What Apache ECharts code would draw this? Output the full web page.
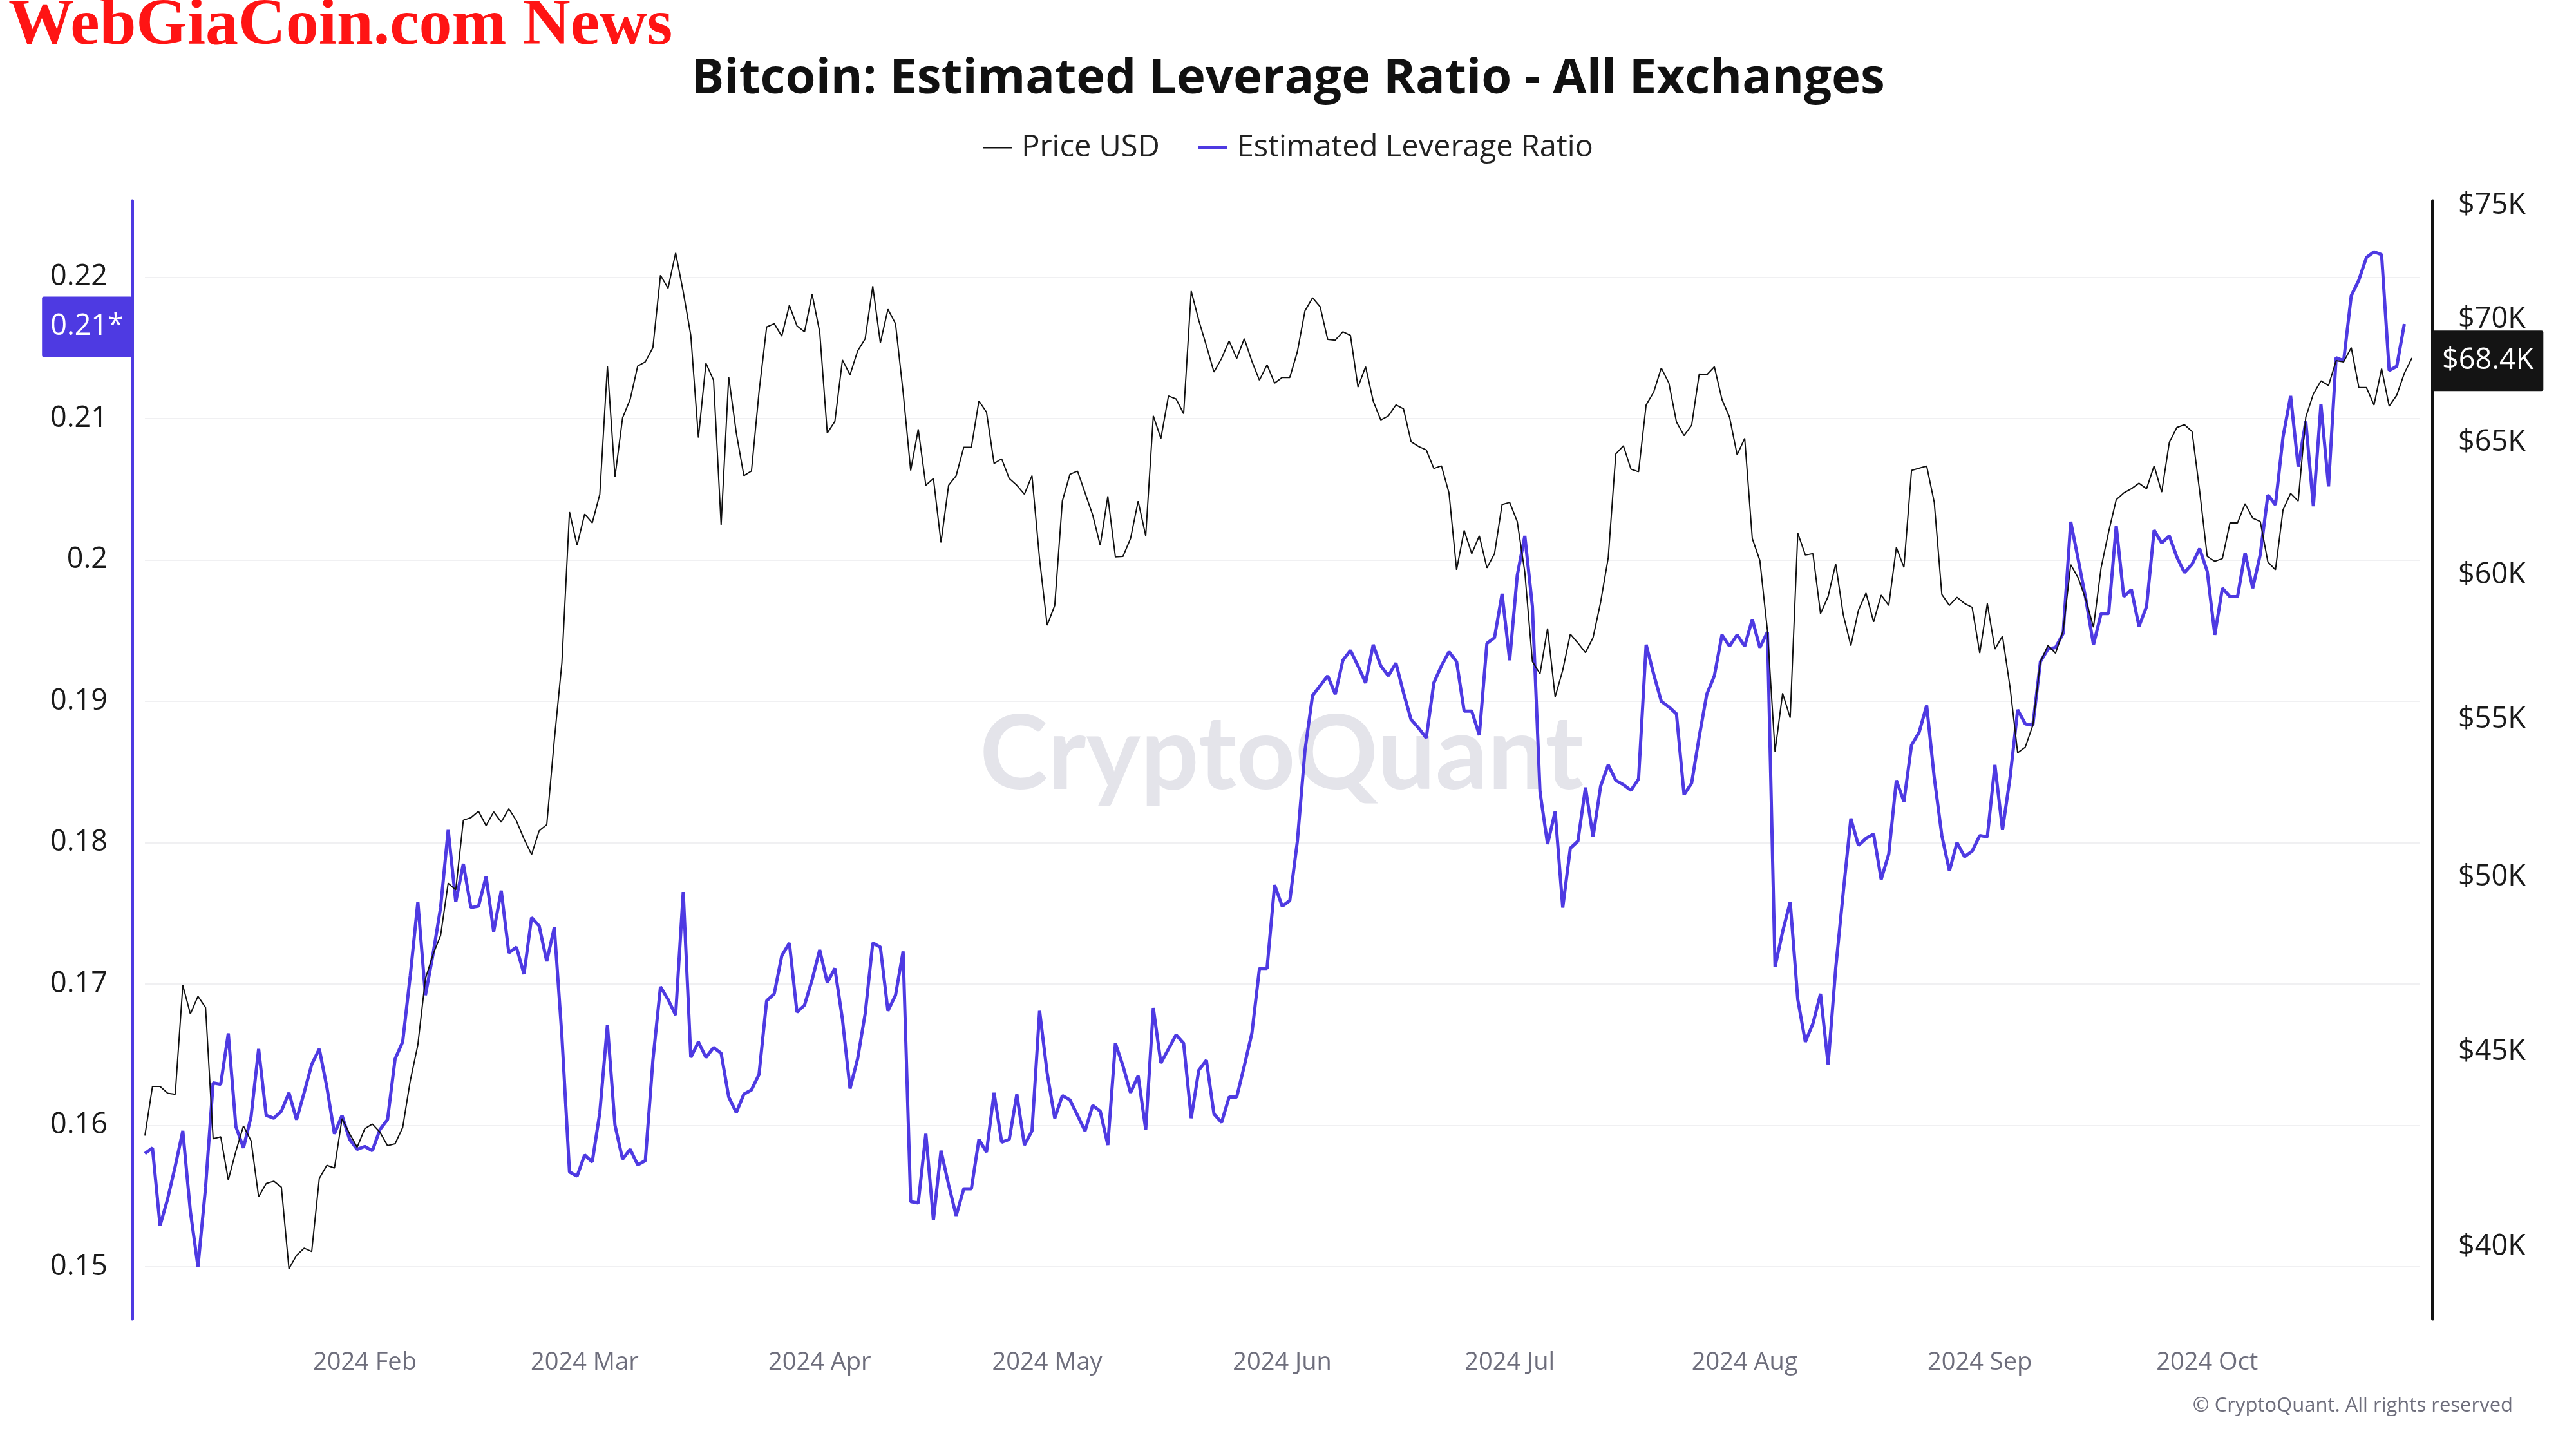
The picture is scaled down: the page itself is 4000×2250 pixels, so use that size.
<!DOCTYPE html>
<html><head><meta charset="utf-8">
<script src="https://cdn.jsdelivr.net/npm/echarts@6/dist/echarts.min.js"></script>
<style>html,body{margin:0;padding:0;background:#fff}#chart{width:4000px;height:2250px}</style>
</head><body><div id="chart"></div>
<script>
const startDate = '2024-01-03';
const priceUSD = [
42780,44070,44070,43890,43860,46840,46040,46530,46220,42700,
42750,41650,42380,43030,42650,41230,41560,41620,41470,39480,
39800,39970,39890,41690,42020,41950,43220,42830,42480,42960,
43080,42870,42520,42570,42990,44220,45190,47030,47720,48270,
49820,49620,51750,51830,52030,51580,52010,51690,52110,51730,
51170,50690,51420,51610,54320,56910,62330,61090,62250,61920,
63000,68070,63660,65970,66710,68070,68240,68830,71900,71340,
72880,71190,69340,65190,68180,67490,61850,67620,65370,63710,
63890,67010,69690,69830,69310,70610,69740,69490,71080,69490,
65370,65830,68320,67710,68690,69200,71430,69030,70440,69830,
67010,63910,65520,63340,63600,61190,63340,63710,64810,64810,
66650,66200,64180,64360,63600,63340,63000,63710,60580,58210,
58910,62740,63760,63890,63050,62220,61090,62920,60660,60680,
61340,62740,61440,66050,65160,66850,66730,66140,71220,69970,
68910,67820,68380,69110,68380,69200,68270,67490,68120,67370,
67600,67600,68660,70370,70930,70550,69170,69140,69490,69340,
67210,68040,66650,65890,66050,66490,66330,65030,64840,64710,
63990,64090,63050,60190,61640,60780,61440,60260,60780,62610,
62690,61970,60100,56950,56530,58100,55750,56650,57900,57590,
57260,57780,59030,60630,64550,64870,63960,63860,66490,67010,
67990,67370,65810,65270,65680,67740,67710,68040,66710,66000,
64520,65160,61340,60530,58020,53940,55870,55050,61540,60730,
60780,58620,59230,60410,58580,57500,58740,59350,58330,59280,
58910,61010,60280,63910,64000,64080,62690,59300,58910,59200,
58980,58840,57240,58980,57380,57830,56070,53900,54080,54800,
56950,57500,57240,58020,60380,59890,59110,58140,60260,61590,
62790,63050,63210,63420,63210,64090,63080,65000,65590,65700,
65430,63130,60680,60500,60600,61920,61920,62640,62100,61970,
60480,60190,62410,63030,62740,66000,66930,67460,67270,68290,
68240,68830,67190,67190,66490,67960,66440,66880,67770,68400
];
const leverageRatio = [
0.1580,0.1584,0.1529,0.1548,0.1571,0.1596,0.1539,0.1500,0.1556,0.1630,
0.1629,0.1665,0.1599,0.1584,0.1606,0.1654,0.1607,0.1605,0.1610,0.1623,
0.1604,0.1623,0.1643,0.1654,0.1627,0.1594,0.1607,0.1590,0.1583,0.1585,
0.1582,0.1597,0.1604,0.1647,0.1659,0.1706,0.1758,0.1692,0.1721,0.1754,
0.1809,0.1758,0.1785,0.1754,0.1755,0.1776,0.1737,0.1766,0.1722,0.1726,
0.1707,0.1747,0.1741,0.1716,0.1740,0.1663,0.1567,0.1564,0.1579,0.1574,
0.1609,0.1671,0.1600,0.1576,0.1583,0.1572,0.1575,0.1646,0.1698,0.1689,
0.1678,0.1765,0.1648,0.1659,0.1648,0.1655,0.1651,0.1620,0.1609,0.1622,
0.1625,0.1636,0.1688,0.1693,0.1720,0.1729,0.1680,0.1685,0.1703,0.1724,
0.1701,0.1711,0.1675,0.1626,0.1647,0.1679,0.1729,0.1726,0.1681,0.1692,
0.1723,0.1546,0.1545,0.1594,0.1533,0.1582,0.1558,0.1536,0.1555,0.1555,
0.1590,0.1581,0.1623,0.1588,0.1590,0.1622,0.1586,0.1596,0.1681,0.1637,
0.1605,0.1621,0.1618,0.1607,0.1596,0.1614,0.1610,0.1586,0.1658,0.1642,
0.1623,0.1635,0.1597,0.1683,0.1644,0.1654,0.1664,0.1658,0.1605,0.1639,
0.1646,0.1608,0.1602,0.1620,0.1620,0.1642,0.1665,0.1711,0.1711,0.1770,
0.1755,0.1759,0.1801,0.1865,0.1904,0.1911,0.1918,0.1905,0.1929,0.1936,
0.1925,0.1913,0.1940,0.1925,0.1918,0.1927,0.1906,0.1887,0.1881,0.1874,
0.1913,0.1925,0.1935,0.1928,0.1893,0.1893,0.1876,0.1941,0.1945,0.1976,
0.1929,0.1989,0.2017,0.1967,0.1836,0.1799,0.1822,0.1754,0.1796,0.1801,
0.1839,0.1804,0.1840,0.1855,0.1844,0.1841,0.1837,0.1845,0.1940,0.1919,
0.1900,0.1896,0.1891,0.1834,0.1842,0.1875,0.1905,0.1918,0.1947,0.1939,
0.1947,0.1939,0.1958,0.1938,0.1949,0.1712,0.1737,0.1758,0.1689,0.1659,
0.1672,0.1693,0.1643,0.1711,0.1765,0.1817,0.1798,0.1803,0.1806,0.1774,
0.1792,0.1844,0.1829,0.1869,0.1878,0.1897,0.1846,0.1805,0.1780,0.1800,
0.1790,0.1794,0.1805,0.1804,0.1855,0.1809,0.1846,0.1894,0.1884,0.1883,
0.1928,0.1937,0.1938,0.1948,0.2027,0.2000,0.1972,0.1940,0.1962,0.1962,
0.2024,0.1974,0.1979,0.1953,0.1967,0.2021,0.2012,0.2017,0.2002,0.1991,
0.1997,0.2008,0.1992,0.1947,0.1980,0.1974,0.1974,0.2005,0.1980,0.2004,
0.2046,0.2039,0.2087,0.2116,0.2066,0.2098,0.2038,0.2110,0.2052,0.2143,
0.2141,0.2187,0.2198,0.2214,0.2218,0.2216,0.2134,0.2137,0.2167
];
const leverageTicks = [0.15,0.16,0.17,0.18,0.19,0.20,0.21,0.22];
const priceTicks = [40000,45000,50000,55000,60000,65000,70000,75000];
const monthTicks = ['2024-02-01','2024-03-01','2024-04-01','2024-05-01','2024-06-01','2024-07-01','2024-08-01','2024-09-01','2024-10-01'];
const monthNames = ['Jan','Feb','Mar','Apr','May','Jun','Jul','Aug','Sep','Oct','Nov','Dec'];
const xEndDate = '2024-10-29';

const DAY = 86400000;
const t0 = Date.parse(startDate + 'T00:00:00Z');
const priceData = priceUSD.map((v, i) => [t0 + i * DAY, v]);
const levData = leverageRatio.map((v, i) => [t0 + i * DAY, v]);
const monthVals = monthTicks.map(s => Date.parse(s + 'T00:00:00Z'));
const lastLev = leverageRatio[leverageRatio.length - 1];
const lastPrice = priceUSD[priceUSD.length - 1];

const BLUE = '#4e3ae2';
const FONT = 'Open Sans';
// legend icons: 45x6 box; thin line for price, thick line for leverage
const ICON_THIN = 'path://M0,2h45v2h-45z M0,0h0.01v0.01h-0.01z M0,5.99h0.01v0.01h-0.01z';
const ICON_THICK = 'path://M0,0.5h45v5h-45z M0,0h0.01v0.01h-0.01z M0,5.99h0.01v0.01h-0.01z';

const chart = echarts.init(document.getElementById('chart'), null, {renderer: 'canvas'});
chart.setOption({
  backgroundColor: '#ffffff',
  animation: false,
  textStyle: {fontFamily: FONT},
  title: {
    text: 'Bitcoin: Estimated Leverage Ratio - All Exchanges',
    left: 'center', top: 80,
    textStyle: {fontFamily: FONT, fontSize: 76, fontWeight: 'bold', color: '#111111'}
  },
  legend: {
    top: 201, left: 'center',
    itemWidth: 45, itemHeight: 6, itemGap: 60,
    textStyle: {fontFamily: FONT, fontSize: 47, color: '#222222', padding: [0, 0, 0, 10]},
    data: [
      {name: 'Price USD', icon: ICON_THIN},
      {name: 'Estimated Leverage Ratio', icon: ICON_THICK}
    ]
  },
  axisPointer: {triggerOn: 'none'},
  grid: {left: 225, right: 243, top: 312, bottom: 202},
  xAxis: {
    type: 'value',
    min: t0,
    max: Date.parse(xEndDate + 'T00:00:00Z'),
    axisLine: {show: false},
    axisTick: {show: false, customValues: monthVals},
    splitLine: {show: false},
    axisLabel: {
      customValues: monthVals,
      fontFamily: FONT, fontSize: 38, color: '#6e6e7c', margin: 49,
      formatter: v => { const d = new Date(v); return d.getUTCFullYear() + ' ' + monthNames[d.getUTCMonth()]; }
    }
  },
  yAxis: [
    {
      type: 'value', position: 'left', offset: 20,
      min: 0.1463, max: 0.2254,
      axisLine: {show: true, lineStyle: {color: BLUE, width: 5}},
      axisTick: {show: false, customValues: leverageTicks},
      splitLine: {show: true, lineStyle: {color: '#f0f0f2', width: 2}},
      axisLabel: {
        customValues: leverageTicks,
        fontFamily: FONT, fontSize: 45, color: '#1a1a1a', margin: 38,
        formatter: v => String(Math.round(v * 100) / 100)
      },
      axisPointer: {
        show: true, type: 'line', status: 'show', value: lastLev, snap: false, triggerTooltip: false,
        lineStyle: {width: 0, opacity: 0},
        label: {
          show: true, margin: 0,
          formatter: () => (Math.floor(lastLev * 100) / 100).toFixed(2) + '*',
          backgroundColor: BLUE, color: '#ffffff',
          fontFamily: FONT, fontSize: 45, lineHeight: 54, padding: [20, 13, 20, 13]
        }
      }
    },
    {
      type: 'log', position: 'right', offset: 20,
      min: 38300, max: 75200,
      axisLine: {show: true, lineStyle: {color: '#111111', width: 5}},
      axisTick: {show: false, customValues: priceTicks},
      splitLine: {show: false},
      axisLabel: {
        customValues: priceTicks,
        fontFamily: FONT, fontSize: 45, color: '#1a1a1a', margin: 40,
        formatter: v => '$' + Math.round(v / 1000) + 'K'
      },
      axisPointer: {
        show: true, type: 'line', status: 'show', value: lastPrice, snap: false, triggerTooltip: false,
        lineStyle: {width: 0, opacity: 0},
        label: {
          show: true, margin: 0,
          formatter: () => '$' + (lastPrice / 1000).toFixed(1) + 'K',
          backgroundColor: '#141414', color: '#ffffff',
          fontFamily: FONT, fontSize: 45, lineHeight: 54, padding: [20, 15, 20, 15]
        }
      }
    }
  ],
  graphic: [
    {
      type: 'text', left: 13, top: -9, z: 10,
      style: {text: 'WebGiaCoin.com News', fill: '#ff1414', font: 'bold 102px "Liberation Serif"'}
    },
    {
      type: 'text', z: 0, silent: true,
      x: 1990, y: 1173,
      style: {text: 'CryptoQuant', fill: '#e4e4ea', font: 'bold 160px Lato', align: 'center', verticalAlign: 'middle', textAlign: 'center', textVerticalAlign: 'middle'}
    },
    {
      type: 'text', z: 10,
      x: 3902, y: 2183,
      style: {text: '\u00a9 CryptoQuant. All rights reserved', fill: '#6e6e7c', font: '31px "Open Sans"', align: 'right', verticalAlign: 'middle', textAlign: 'right', textVerticalAlign: 'middle'}
    }
  ],
  series: [
    {
      name: 'Price USD', type: 'line', yAxisIndex: 1, z: 4,
      data: priceData, symbol: 'none', showSymbol: false,
      lineStyle: {color: '#111111', width: 2}, itemStyle: {color: '#111111'}
    },
    {
      name: 'Estimated Leverage Ratio', type: 'line', yAxisIndex: 0, z: 3,
      data: levData, symbol: 'none', showSymbol: false,
      lineStyle: {color: BLUE, width: 5}, itemStyle: {color: BLUE}
    }
  ]
});
</script>
</body></html>
